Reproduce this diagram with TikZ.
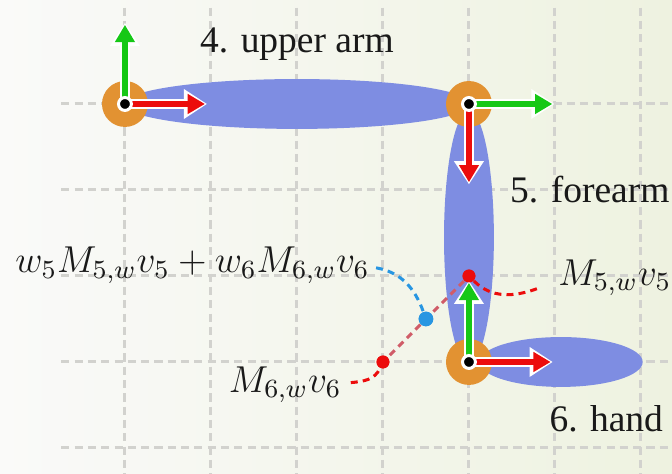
\documentclass[tikz,border=0pt]{standalone}
\usepackage{fix-cm}
\usepackage{fontspec}
\newfontfamily\labelfont{LiberationSerif}[Extension=.ttf, UprightFont=*-Regular]
\usepackage{tikz}
\usetikzlibrary{arrows.meta, positioning, calc}
\definecolor{cblue}{RGB}{126,141,226}
\definecolor{corange}{RGB}{226,146,50}
\definecolor{cred}{RGB}{236,12,12}
\definecolor{cgreen}{RGB}{22,200,22}
\definecolor{cmix}{RGB}{40,150,226}
\definecolor{clink}{RGB}{208,92,104}
\definecolor{cgrid}{RGB}{210,210,206}
\definecolor{cbgleft}{RGB}{250,250,249}
\definecolor{cbgright}{RGB}{238,242,224}

\newcommand{\frameaxis}[3]{%
    \draw[->, white, line width=3.2pt, >={Triangle[length=2.7mm, width=3.3mm]}, shorten >=-0.7pt] (#2) -- (#3);
    \draw[->, #1, line width=1.7pt] (#2) -- (#3);
}

\begin{document}
\begin{tikzpicture}[
    >={Triangle[length=2mm, width=2.2mm]},
    every node/.style={font=\labelfont\fontsize{12.4}{15}\selectfont, inner sep=1.5pt, text=black!90},
    gridline/.style={cgrid, line width=1pt, dash pattern=on 2.7pt off 1.7pt},
    limb/.style={fill=cblue},
    joint/.style={fill=corange},
    leader/.style={line width=1pt, dash pattern=on 2.3pt off 1.7pt},
    dotpoint/.style={circle, inner sep=0pt, minimum size=0.15cm},
]
    % Canvas and background
    \useasboundingbox (-1.453,-4.302) rectangle (6.361,1.209);
    \shade[left color=cbgleft, right color=cbgright] (-1.453,-4.302) rectangle (6.361,1.209);

    % Grid
    \foreach \x in {0,...,6}
        \draw[gridline] (\x,1.12) -- (\x,-4.302);
    \foreach \y in {0,-1,-2,-3,-4}
        \draw[gridline] (-0.74,\y) -- (6.361,\y);

    % Joints
    \coordinate (shoulder) at (0,0);
    \coordinate (elbow) at (4,0);
    \coordinate (wrist) at (4,-3);

    % Limbs
    \fill[limb] (2,0) ellipse (2.02 and 0.29);
    \fill[limb] (4,-1.55) ellipse (0.29 and 1.47);
    \fill[limb] (5.07,-3) ellipse (0.95 and 0.29);

    % Joint discs
    \foreach \j in {shoulder, elbow, wrist}
        \fill[joint] (\j) circle (0.267);

    % Skinned points and their blend
    \node[dotpoint, fill=cred] (p5) at (4,-2) {};
    \node[dotpoint, fill=cred] (p6) at (3,-3) {};
    \node[dotpoint, fill=cmix, minimum size=0.17cm] (pmix) at ($(p5)!0.5!(p6)$) {};
    \draw[clink, leader] (p5) -- (pmix) -- (p6);

    % Local frames
    \frameaxis{cgreen}{shoulder}{0,0.92}
    \frameaxis{cred}{shoulder}{0.93,0}
    \frameaxis{cgreen}{elbow}{4.97,0}
    \frameaxis{cred}{elbow}{4,-0.91}
    \frameaxis{cgreen}{wrist}{4,-2.08}
    \frameaxis{cred}{wrist}{4.95,-3}
    \foreach \j in {shoulder, elbow, wrist}
        \filldraw[black, draw=white, line width=1pt] (\j) circle (0.075);

    % Labels
    \node[anchor=base] (upper) at (2,0.593) {4. upper arm};
    \node[anchor=base west] (fore) at (4.42,-1.151) {5. forearm};
    \node[anchor=base west] (hand) at (4.877,-3.814) {6. hand};
    \node[anchor=base east] (mix) at (2.90,-1.965) {$w_5M_{5,w}v_5 + w_6M_{6,w}v_6$};
    \node[anchor=base east] (m6) at (2.576,-3.35) {$M_{6,w}v_6$};
    \node[anchor=base west] (m5) at (4.98,-2.105) {$M_{5,w}v_5$};

    % Leaders
    \coordinate (m5end) at ($(m5.base west)+(-0.18,-0.04)$);
    \coordinate (m6end) at ($(m6.base east)+(0.05,0.11)$);
    \coordinate (mixend) at ($(mix.base east)+(0.02,0.06)$);
    \draw[cred, leader] (p5) to[out=-45, in=200] (m5end);
    \draw[cred, leader] (m6end) to[out=5, in=245] (p6);
    \draw[cmix, leader] (mixend) to[out=-10, in=110] (pmix);
    \node[dotpoint, fill=cred] at (p5) {};
    \node[dotpoint, fill=cred] at (p6) {};
    \node[dotpoint, fill=cmix, minimum size=0.17cm] at (pmix) {};
\end{tikzpicture}
\end{document}
